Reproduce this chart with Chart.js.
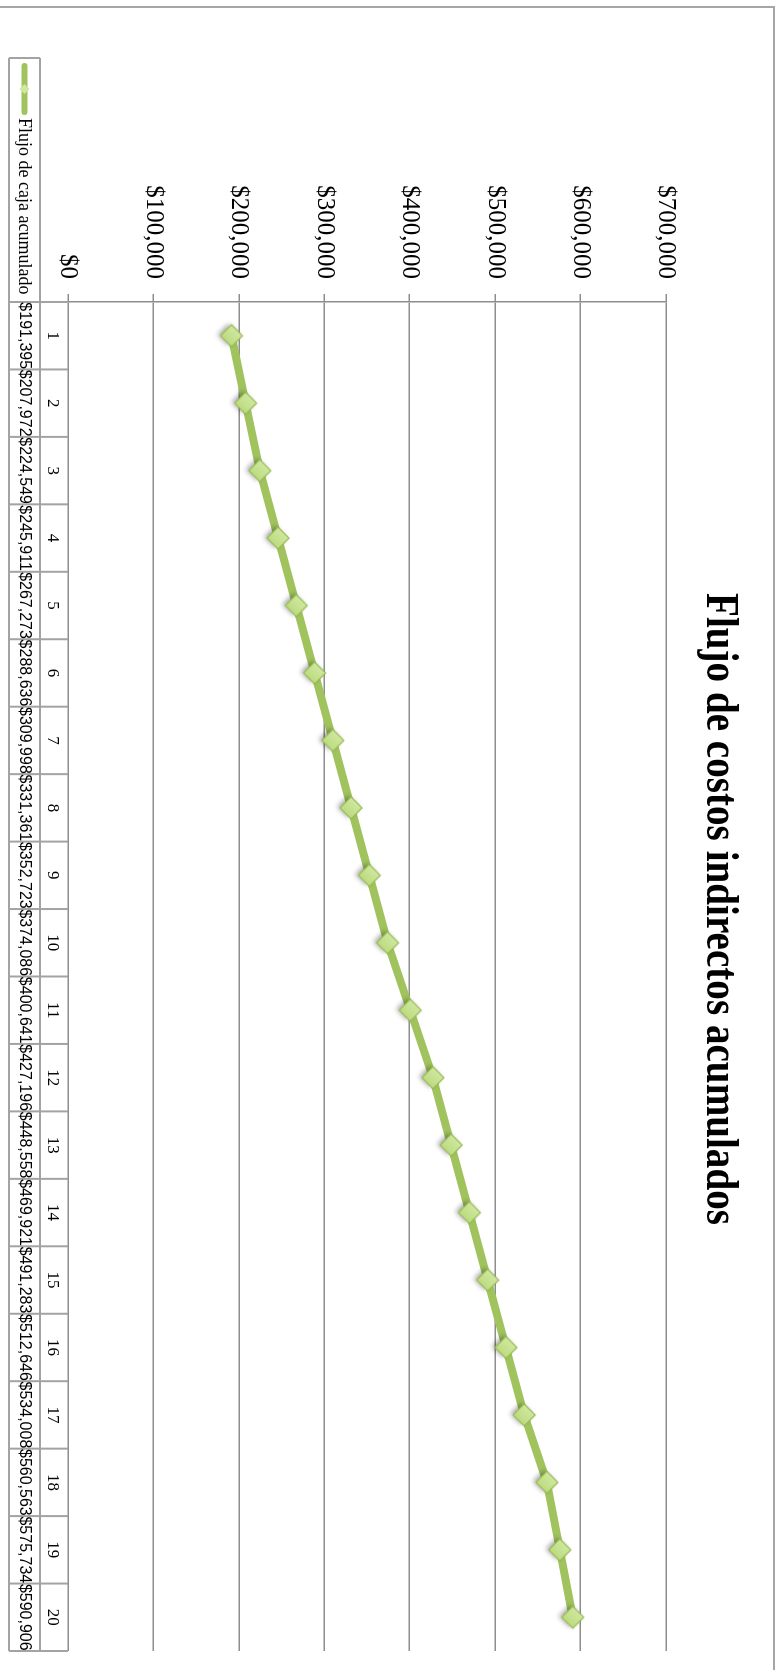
<!DOCTYPE html>
<html>
<head>
<meta charset="utf-8">
<title>Flujo de costos indirectos acumulados</title>
<script src="https://cdn.jsdelivr.net/npm/chart.js@4.4.1/dist/chart.umd.min.js"></script>
<style>
  html, body { margin: 0; padding: 0; background: #ffffff; overflow: hidden; }
  /* The chart is laid out landscape and turned a quarter turn clockwise to fill the portrait page */
  #wrap {
    position: absolute; left: 0; top: 0;
    width: 1670px; height: 780px;
    transform-origin: 0 0;
    transform: translate(780px, 0) rotate(90deg);
  }
  canvas { display: block; }
</style>
</head>
<body>
<div id="wrap"><canvas id="chart" width="1670" height="780"></canvas></div>
<script>
// ---- data ----
const chartTitle = 'Flujo de costos indirectos acumulados';
const seriesName = 'Flujo de caja acumulado';
const periods = ['1','2','3','4','5','6','7','8','9','10','11','12','13','14','15','16','17','18','19','20'];
const cumulativeFlow = [191395, 207972, 224549, 245911, 267273, 288636, 309998, 331361, 352723, 374086,
                        400641, 427196, 448558, 469921, 491283, 512646, 534008, 560563, 575734, 590906];
const valueTicks = [0, 100000, 200000, 300000, 400000, 500000, 600000, 700000];
const valueTickLabels = ['$0', '$100,000', '$200,000', '$300,000', '$400,000', '$500,000', '$600,000', '$700,000'];

// ---- styling ----
const LINE_GREEN = '#a0c35e';
const GRID_GRAY = '#8e8e8e';
const TABLE_GRAY = '#a3a3a3';
const SERIF = '"Liberation Serif", "Times New Roman", serif';
const SANS = '"Liberation Sans", Arial, sans-serif';

function money(v) {
  return '$' + Math.round(v).toLocaleString('en-US');
}

// Diamond marker with a soft green gradient and a light drop shadow
function diamondImage(r) {
  const pad = 9;
  const size = 2 * (r + pad);
  const c = document.createElement('canvas');
  c.width = size; c.height = size;
  const g = c.getContext('2d');
  const m = size / 2;
  g.save();
  g.shadowColor = 'rgba(0,0,0,0.35)';
  g.shadowBlur = 5;
  g.shadowOffsetX = -1;
  g.shadowOffsetY = 3;
  g.beginPath();
  g.moveTo(m, m - r); g.lineTo(m + r, m); g.lineTo(m, m + r); g.lineTo(m - r, m); g.closePath();
  const grad = g.createLinearGradient(m - r, m - r, m + r, m + r);
  grad.addColorStop(0, '#d9eeb0');
  grad.addColorStop(0.5, '#c6e28f');
  grad.addColorStop(1, '#b3d473');
  g.fillStyle = grad;
  g.fill();
  g.restore();
  g.lineWidth = 1.2;
  g.strokeStyle = '#98bb55';
  g.stroke();
  return c;
}

const markerImg = diamondImage(11);

// Outer frame of the chart object
const framePlugin = {
  id: 'frame',
  beforeDraw(chart) {
    const ctx = chart.ctx;
    ctx.save();
    ctx.fillStyle = '#ffffff';
    ctx.fillRect(0, 0, chart.width, chart.height);
    ctx.strokeStyle = '#a6a6a6';
    ctx.lineWidth = 2;
    ctx.beginPath();
    ctx.moveTo(7, chart.height); ctx.lineTo(7, 6); ctx.lineTo(chart.width, 6);
    ctx.stroke();
    ctx.restore();
  }
};

// Chart heading: a tall bold serif, set to a fixed run length
const headingPlugin = {
  id: 'heading',
  afterDraw(chart) {
    const ctx = chart.ctx;
    const runLength = 632;
    ctx.save();
    ctx.font = 'bold 46px ' + SERIF;
    ctx.fillStyle = '#000000';
    ctx.textAlign = 'center';
    ctx.textBaseline = 'alphabetic';
    const sx = runLength / ctx.measureText(chartTitle).width;
    ctx.translate(909, 73);
    ctx.scale(sx, 1);
    ctx.fillText(chartTitle, 0, 0);
    ctx.restore();
  }
};

// Data table under the plot: category row, value row and legend key
const dataTablePlugin = {
  id: 'dataTable',
  afterDraw(chart) {
    const ctx = chart.ctx;
    const area = chart.chartArea;
    const xs = chart.scales.x;
    const labels = chart.data.labels;
    const values = chart.data.datasets[0].data;
    const n = labels.length;
    const w = (area.right - area.left) / n;
    const rowTop = area.bottom;
    const rowMid = rowTop + 28;
    const rowBot = rowTop + 59;
    const keyLeft = 58;

    ctx.save();
    ctx.strokeStyle = TABLE_GRAY;
    ctx.lineWidth = 2;
    ctx.beginPath();
    for (let k = 0; k <= n; k++) {
      const u = area.left + k * w;
      ctx.moveTo(u, rowTop); ctx.lineTo(u, rowBot);
    }
    ctx.moveTo(keyLeft, rowMid); ctx.lineTo(area.right, rowMid);
    ctx.moveTo(keyLeft, rowBot); ctx.lineTo(area.right, rowBot);
    ctx.moveTo(keyLeft, rowMid); ctx.lineTo(keyLeft, rowBot);
    ctx.stroke();

    // category numbers
    ctx.fillStyle = '#000000';
    ctx.textAlign = 'center';
    ctx.textBaseline = 'middle';
    ctx.font = '17px ' + SERIF;
    labels.forEach((lab, i) => {
      ctx.fillText(lab, xs.getPixelForValue(i), (rowTop + rowMid) / 2 + 2);
    });
    // values
    ctx.font = '16px ' + SANS;
    values.forEach((v, i) => {
      ctx.fillText(money(v), xs.getPixelForValue(i), (rowMid + rowBot) / 2);
    });

    // legend key
    const ky = (rowMid + rowBot) / 2;
    ctx.strokeStyle = LINE_GREEN;
    ctx.lineWidth = 6;
    ctx.lineCap = 'round';
    ctx.beginPath();
    ctx.moveTo(66, ky); ctx.lineTo(112, ky);
    ctx.stroke();
    ctx.beginPath();
    ctx.moveTo(89, ky - 5); ctx.lineTo(94, ky); ctx.lineTo(89, ky + 5); ctx.lineTo(84, ky); ctx.closePath();
    ctx.fillStyle = '#cfe79f';
    ctx.fill();
    ctx.fillStyle = '#000000';
    ctx.textAlign = 'left';
    ctx.font = '18px ' + SERIF;
    ctx.fillText(seriesName, 118, ky + 1);
    ctx.restore();
  }
};

new Chart(document.getElementById('chart'), {
  type: 'line',
  data: {
    labels: periods,
    datasets: [{
      label: seriesName,
      data: cumulativeFlow,
      borderColor: LINE_GREEN,
      backgroundColor: LINE_GREEN,
      borderWidth: 8,
      borderJoinStyle: 'round',
      borderCapStyle: 'round',
      tension: 0,
      fill: false,
      pointStyle: markerImg,
      pointRadius: 11,
      pointHoverRadius: 11,
      clip: false
    }]
  },
  options: {
    responsive: false,
    animation: false,
    devicePixelRatio: 1,
    events: [],
    layout: { padding: { left: 0, right: 15, top: 114, bottom: 68 } },
    plugins: {
      legend: { display: false },
      title: { display: false },
      tooltip: { enabled: false }
    },
    scales: {
      x: {
        type: 'category',
        offset: true,
        display: false
      },
      y: {
        min: 0,
        max: 700000,
        afterBuildTicks(scale) {
          scale.ticks = valueTicks.map(v => ({ value: v }));
        },
        afterFit(scale) { scale.width = 302; },
        ticks: {
          padding: 15,
          color: '#000000',
          font: { family: SERIF, size: 25 },
          callback(value) {
            const i = valueTicks.indexOf(value);
            return i >= 0 ? valueTickLabels[i] : '';
          }
        },
        grid: {
          color: GRID_GRAY,
          lineWidth: 1.5,
          tickLength: 8,
          drawTicks: true
        },
        border: { display: true, color: GRID_GRAY, width: 1.5 }
      }
    }
  },
  plugins: [framePlugin, headingPlugin, dataTablePlugin]
});
</script>
</body>
</html>
